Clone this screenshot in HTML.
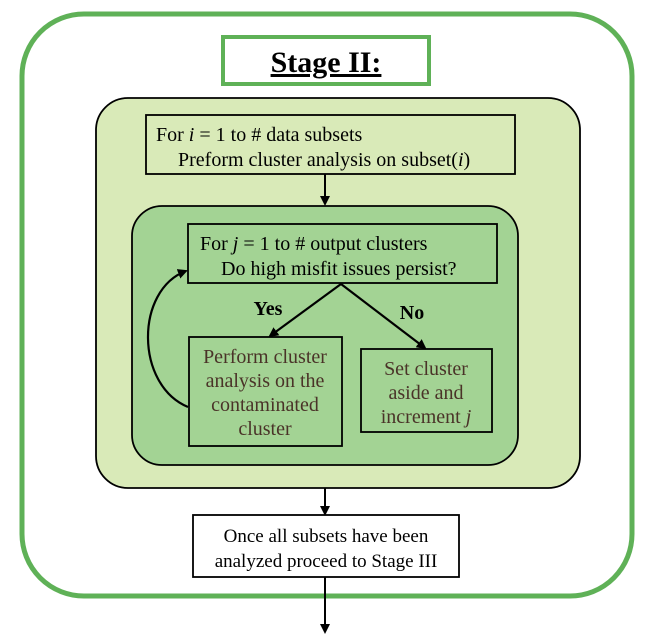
<!DOCTYPE html>
<html><head><style>body{margin:0;background:#fff}svg{display:block}</style></head><body>
<svg width="653" height="642" viewBox="0 0 653 642" xmlns="http://www.w3.org/2000/svg" font-family="Liberation Serif, serif">
<defs><marker id="a" markerWidth="10" markerHeight="10" refX="8" refY="5" orient="auto" markerUnits="userSpaceOnUse"><path d="M0,0 L10,5 L0,10 Z" fill="#000"/></marker></defs>
<rect x="22" y="14" width="610" height="582" rx="62" fill="#fff" stroke="#5fb157" stroke-width="5"/>
<rect x="223" y="37" width="206" height="47" fill="#fff" stroke="#5fb157" stroke-width="4"/>
<text x="326" y="72" text-anchor="middle" font-size="30" font-weight="bold" text-decoration="underline">Stage II:</text>
<rect x="96" y="98" width="484" height="390" rx="32" fill="#d9eab8" stroke="#000" stroke-width="1.8"/>
<rect x="146" y="115" width="369" height="59" fill="#d9eab8" stroke="#000" stroke-width="1.8"/>
<text x="156" y="141" font-size="20">For <tspan font-style="italic">i</tspan> = 1 to # data subsets</text>
<text x="178" y="166" font-size="20">Preform cluster analysis on subset(<tspan font-style="italic">i</tspan>)</text>
<line x1="325" y1="174" x2="325" y2="204" stroke="#000" stroke-width="2" marker-end="url(#a)"/>
<rect x="132" y="206" width="386" height="259" rx="30" fill="#a3d394" stroke="#000" stroke-width="1.8"/>
<rect x="188" y="224" width="309" height="59" fill="#a3d394" stroke="#000" stroke-width="1.8"/>
<text x="200" y="250" font-size="20">For <tspan font-style="italic">j</tspan> = 1 to # output clusters</text>
<text x="221" y="275" font-size="20">Do high misfit issues persist?</text>
<line x1="341" y1="284" x2="270" y2="336" stroke="#000" stroke-width="2.2" marker-end="url(#a)"/>
<line x1="341" y1="284" x2="425" y2="348" stroke="#000" stroke-width="2.2" marker-end="url(#a)"/>
<text x="268" y="315" font-size="20" font-weight="bold" text-anchor="middle">Yes</text>
<text x="412" y="319" font-size="20" font-weight="bold" text-anchor="middle">No</text>
<rect x="189" y="337" width="153" height="109" fill="#a3d394" stroke="#000" stroke-width="1.8"/>
<g font-size="20" fill="#4a3328" text-anchor="middle">
<text x="265" y="363">Perform cluster</text>
<text x="265" y="387">analysis on the</text>
<text x="265" y="411">contaminated</text>
<text x="265" y="435">cluster</text>
</g>
<rect x="361" y="349" width="131" height="83" fill="#a3d394" stroke="#000" stroke-width="1.8"/>
<g font-size="20" fill="#4a3328" text-anchor="middle">
<text x="426" y="375">Set cluster</text>
<text x="426" y="399">aside and</text>
<text x="426" y="423">increment <tspan font-style="italic">j</tspan></text>
</g>
<path d="M188,407 C135,385 135,290 186,271" fill="none" stroke="#000" stroke-width="2.2" marker-end="url(#a)"/>
<line x1="325" y1="488" x2="325" y2="514" stroke="#000" stroke-width="2" marker-end="url(#a)"/>
<rect x="193" y="515" width="266" height="62" fill="#fff" stroke="#000" stroke-width="1.8"/>
<text x="326" y="542" font-size="19" text-anchor="middle">Once all subsets have been</text>
<text x="326" y="567" font-size="19" text-anchor="middle">analyzed proceed to Stage III</text>
<line x1="325" y1="577" x2="325" y2="632" stroke="#000" stroke-width="2" marker-end="url(#a)"/>
</svg>
</body></html>
